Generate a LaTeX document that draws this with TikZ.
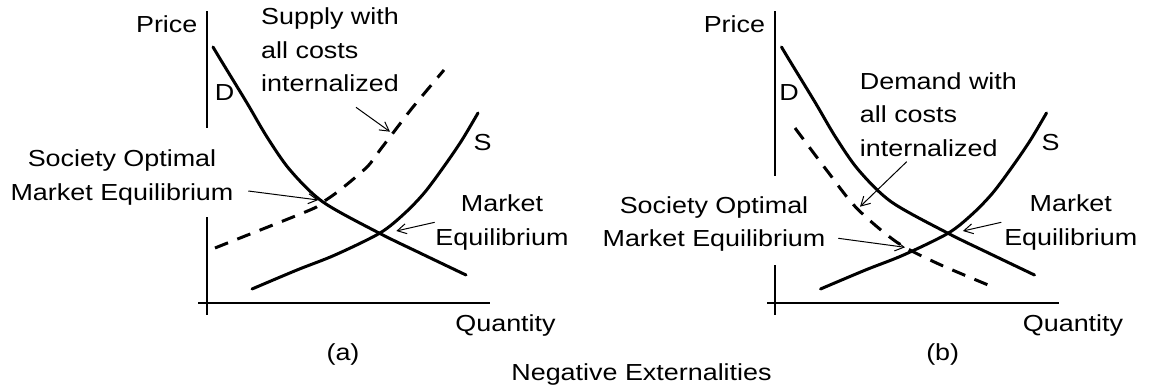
\documentclass[tikz,border=0pt]{standalone}
\usepackage{fontspec}
\setmainfont{Liberation Sans}[FakeStretch=1.16]
\usetikzlibrary{arrows.meta}
\begin{document}
\begin{tikzpicture}[x=1pt,y=-1pt,
  txt/.style={inner sep=0pt, font=\fontsize{23.2}{33.5}\selectfont},
  lbl/.style={txt, align=center},
  lblw/.style={txt, align=left, anchor=west},
  lbase/.style={txt, anchor=base},
  curve/.style={line width=3pt, line cap=round, line join=round},
  dcurve/.style={line width=3pt, dash pattern=on 14pt off 10pt},
  axis/.style={line width=1.7pt},
  ptr/.style={line width=1pt, -{Straight Barb[length=9pt,width=10pt]}}]
\useasboundingbox (0,0) rectangle (1149,391);
% ---------- panel (a) ----------
\draw[axis] (206.7,11) -- (206.7,128);
\draw[axis] (206.7,217) -- (206.7,315);
\draw[axis] (198,303) -- (490,303);
\draw[curve] plot[smooth] coordinates {(213,47) (222,62) (247,103) (267,137) (290,170) (323,202) (379,233) (420,253) (466,275)};
\draw[curve] plot[smooth] coordinates {(252,289) (297,270) (335,255) (380,233) (405,213) (425,192) (445,165) (462,140) (478,113)};
\draw[dcurve] plot[smooth] coordinates {(215,248) (230,242) (310,210) (323,202) (340,190) (367,167) (380,150) (393,133) (413,107) (444,70)};
\node[lbase, anchor=base east] (pa) at (197.6,32) {Price};
\node[lbase] (da) at (224.5,100) {D};
\node[lbase] (sa) at (482.5,150) {S};
\node[lblw] (supa) at (261,50) {Supply with\\all costs\\internalized};
\node[lbl] (soa) at (122,177.4) {Society Optimal\\Market Equilibrium};
\node[lbl] (mea) at (502,222.4) {Market\\Equilibrium};
\node[lbase] (qa) at (505.5,331.7) {Quantity};
\node[lbase] (capa) at (343,360) {(a)};
\coordinate (a1s) at (356,107.3); \coordinate (a1e) at (390,131.7);
\coordinate (a2s) at (248.3,191); \coordinate (a2e) at (318.3,200);
\coordinate (a3s) at (434.7,222.3); \coordinate (a3e) at (396.3,231);
\draw[ptr] (a1s) -- (a1e);
\draw[ptr] (a2s) -- (a2e);
\draw[ptr] (a3s) -- (a3e);
% ---------- panel (b) ----------
\draw[axis] (775.1,11) -- (775.1,176);
\draw[axis] (775.1,265) -- (775.1,315);
\draw[axis] (767,303) -- (1059,303);
\begin{scope}[shift={(568.5,0)}]
\draw[curve] plot[smooth] coordinates {(213,47) (222,62) (247,103) (267,137) (290,170) (323,202) (379,233) (420,253) (466,275)};
\draw[curve] plot[smooth] coordinates {(252,289) (297,270) (335,255) (380,233) (405,213) (425,192) (445,165) (462,140) (478,113)};
\draw[dcurve] plot[smooth] coordinates {(226.5,128) (259.5,172) (288,208) (328,242) (368,263) (424.5,287)};
\end{scope}
\node[lbase, anchor=base east] (pb) at (765.3,32) {Price};
\node[lbase] (db) at (789,100) {D};
\node[lbase] (sb) at (1050.7,150) {S};
\node[lblw] (demb) at (859.7,114.7) {Demand with\\all costs\\internalized};
\node[lbl] (sob) at (714,224) {Society Optimal\\Market Equilibrium};
\node[lbl] (meb) at (1070.8,222.4) {Market\\Equilibrium};
\node[lbase] (qb) at (1073,331.7) {Quantity};
\node[lbase] (capb) at (942.7,360) {(b)};
\coordinate (b1s) at (906.7,161.7); \coordinate (b1e) at (860,206.7);
\coordinate (b2s) at (838.3,238.3); \coordinate (b2e) at (905,247.3);
\coordinate (b3s) at (1001.3,222.3); \coordinate (b3e) at (962.9,231);
\draw[ptr] (b1s) -- (b1e);
\draw[ptr] (b2s) -- (b2e);
\draw[ptr] (b3s) -- (b3e);
% ---------- caption ----------
\node[lbase] (neg) at (641.5,380) {Negative Externalities};
\end{tikzpicture}
\end{document}
